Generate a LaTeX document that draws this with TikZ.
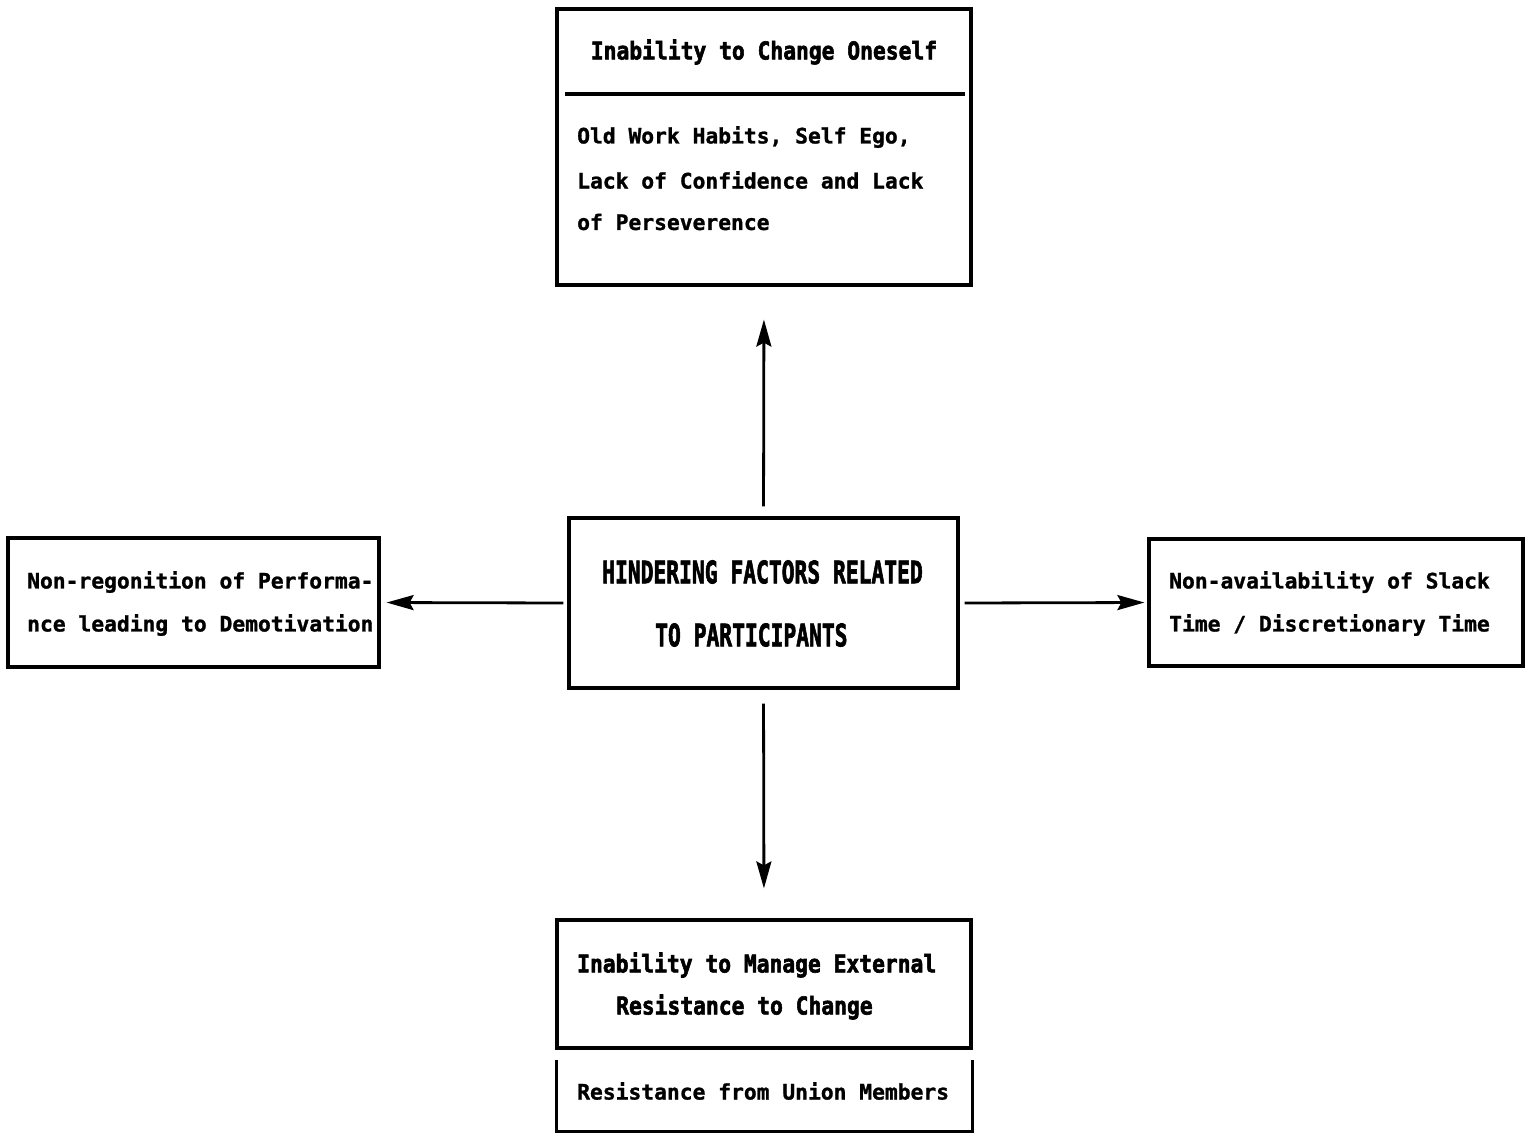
\documentclass[tikz,border=0pt]{standalone}
\usepackage{fontspec}
\setmonofont[BoldFeatures={FakeBold=1.2}]{DejaVu Sans Mono}
\newfontfamily\headmono[BoldFeatures={FakeBold=2.5}]{DejaVu Sans Mono}
\usetikzlibrary{arrows.meta}
\begin{document}
\begin{tikzpicture}[x=1pt,y=-1pt,
  box/.style={draw,line width=3.2pt,inner sep=0pt},
  txt/.style={inner sep=0pt,anchor=west,
    font=\ttfamily\bfseries\fontsize{21.3}{21.3}\selectfont},
  hd/.style={txt,font=\headmono\bfseries\fontsize{21.3}{21.3}\selectfont},
  arr/.style={line width=2.8pt,-{Stealth[length=27pt,width=15pt,inset=4pt]}}]
\useasboundingbox (0,0) rectangle (1530,1133);

% boxes
\node[box,minimum width=414pt,minimum height=276pt] (top) at (764,147) {};
\node[box,minimum width=389pt,minimum height=170pt] (hub) at (763.5,603) {};
\node[box,minimum width=371pt,minimum height=129pt] (left) at (193.5,602.5) {};
\node[box,minimum width=374pt,minimum height=127pt] (right) at (1336,602.5) {};
\node[box,minimum width=414pt,minimum height=128pt] (bottom) at (764,984) {};
\node[inner sep=0pt,minimum width=415pt,minimum height=71pt] (union) at (764.5,1095.5) {};
\draw[line width=3.2pt] (union.north west) -- (union.south west) -- (union.south east) -- (union.north east);

% divider under the heading of the top box
\coordinate (divL) at (565,94);
\coordinate (divR) at (965,94);
\draw[line width=3.2pt] (divL) -- (divR);

% texts
\node[hd,anchor=center] (topHead) at (764,52) {\scalebox{1}[1.15]{Inability to Change Oneself}};
\node[txt] (topL1) at (577,137) {Old Work Habits, Self Ego,};
\node[txt] (topL2) at (577,180) {Lack of Confidence and Lack};
\node[txt] (topL3) at (577,222) {of Perseverence};

\node[hd] (hubL1) at (602,572) {\scalebox{1}[1.45]{HINDERING FACTORS RELATED}};
\node[hd] (hubL2) at (655,635) {\scalebox{1}[1.45]{TO PARTICIPANTS}};

\node[txt] (leftL1) at (27,582) {Non-regonition of Performa-};
\node[txt] (leftL2) at (27,625) {nce leading to Demotivation};

\node[txt] (rightL1) at (1169,582) {Non-availability of Slack};
\node[txt] (rightL2) at (1169,625) {Time / Discretionary Time};

\node[hd] (botL1) at (577,965) {\scalebox{1}[1.15]{Inability to Manage External}};
\node[hd] (botL2) at (616,1007) {\scalebox{1}[1.15]{Resistance to Change}};

\node[txt] (unionL) at (577,1091) {Resistance from Union Members};

% connectors
\draw[arr,shorten <=10pt,shorten >=33pt] (hub.north) -- (top.south);
\draw[arr,shorten <=14pt,shorten >=30pt] (hub.south) -- (bottom.north);
\draw[arr,shorten <=4pt,shorten >=6pt] (hub.west) -- (left.east);
\draw[arr,shorten <=5pt,shorten >=3pt] (hub.east) -- (right.west);
\end{tikzpicture}
\end{document}
